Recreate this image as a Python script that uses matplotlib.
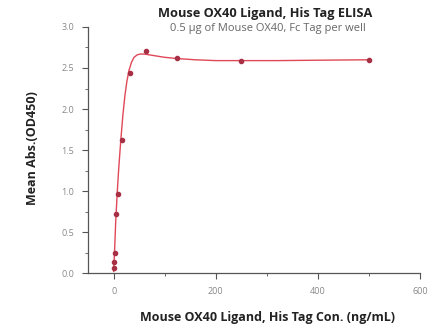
#!/usr/bin/env python3
"""ELISA binding curve: Mouse OX40 Ligand, His Tag."""

import matplotlib
matplotlib.use('Agg')
import matplotlib.pyplot as plt
from matplotlib.ticker import MultipleLocator, FormatStrFormatter

# Measured points (ng/mL vs OD450)
conc = [0.49, 0.98, 1.95, 3.9, 7.8, 15.6, 31.25, 62.5, 125, 250, 500]
od450 = [0.06, 0.14, 0.24, 0.72, 0.96, 1.62, 2.44, 2.71, 2.62, 2.58, 2.60]

# Fitted curve
fit_x = [0, 2, 4, 7, 10, 14, 18, 22, 26, 30, 35, 40, 46, 52, 60, 70, 85, 100,
         125, 160, 200, 250, 320, 400, 500]
fit_y = [0.02, 0.30, 0.62, 0.98, 1.28, 1.62, 1.92, 2.16, 2.34, 2.47, 2.57, 2.63,
         2.66, 2.67, 2.67, 2.66, 2.645, 2.63, 2.615, 2.60, 2.59, 2.59, 2.59,
         2.595, 2.60]

title = 'Mouse OX40 Ligand, His Tag ELISA'
subtitle = '0.5 \u03bcg of Mouse OX40, Fc Tag per well'
xlabel = 'Mouse OX40 Ligand, His Tag Con. (ng/mL)'
ylabel = 'Mean Abs.(OD450)'

plt.rcParams['font.family'] = ['Open Sans', 'DejaVu Sans']

fig = plt.figure(figsize=(4.34, 3.29), dpi=100)
ax = fig.add_axes([0.203, 0.170, 0.765, 0.748])

ax.plot(fit_x, fit_y, color='#e04858', linewidth=1.0, zorder=2)
ax.plot(conc, od450, linestyle='none', marker='o', markersize=3.0,
        color='#a83045', zorder=3)

ax.set_xlim(-50, 600)
ax.set_ylim(0, 3.0)
ax.xaxis.set_major_locator(MultipleLocator(200))
ax.xaxis.set_minor_locator(MultipleLocator(100))
ax.yaxis.set_major_locator(MultipleLocator(0.5))
ax.yaxis.set_minor_locator(MultipleLocator(0.25))
ax.yaxis.set_major_formatter(FormatStrFormatter('%.1f'))

for side in ['top', 'right']:
    ax.spines[side].set_visible(False)
for side in ['left', 'bottom']:
    ax.spines[side].set_color('#555555')
    ax.spines[side].set_linewidth(0.9)

ax.tick_params(which='major', direction='out', length=4, width=0.8,
               color='#555555', labelsize=6.5, labelcolor='#888888', pad=6)
ax.tick_params(which='minor', direction='out', length=2.5, width=0.6,
               color='#555555')

ax.set_xlabel(xlabel, fontsize=9, fontweight='bold', va='center',
              color='#222222')
ax.xaxis.set_label_coords(0.54, -0.179)
ax.set_ylabel(ylabel, fontsize=9, fontweight='bold', va='center',
              color='#222222')
ax.yaxis.set_label_coords(-0.166, 0.506)

fig.text(0.61, 0.96, title, ha='center', va='center', fontsize=9.2,
         fontweight='bold', color='#222222')
fig.text(0.617, 0.912, subtitle, ha='center', va='center', fontsize=8.0,
         color='#666666')

fig.savefig('out.png', dpi=100)
plt.close(fig)
